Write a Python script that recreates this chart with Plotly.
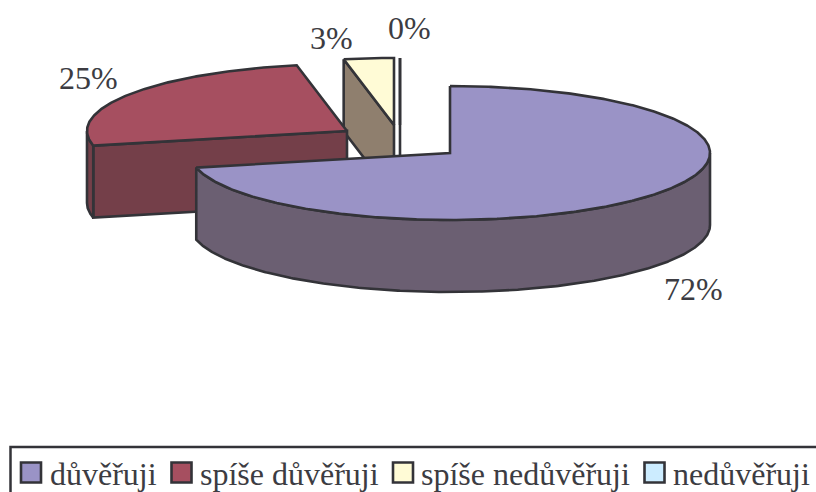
import numpy as np
import plotly.graph_objects as go

categories = ["důvěřuji", "spíše důvěřuji", "spíše nedůvěřuji", "nedůvěřuji"]
shares = [71.5, 25.4, 3.1, 0.0]
pct_labels = ["72%", "25%", "3%", "0%"]

top_colors = ["#9A93C6", "#A64F60", "#FFFBD6", "#CCECFF"]
wall_colors = ["#6B5F72", "#743F49", "#8F7F6E", "#8F7F6E"]
INK = "#333338"
TEXT = "#3C3C42"
FONT = "Liberation Serif"

RX, RY, DEPTH = 260, 67, 72
centers = [(450, 153), (347, 131), (394, 125), (400, 125)]
label_pos = [(693, 289), (88, 78), (331, 38), (409, 28)]
swatch_x = [31, 181.5, 403, 654.5]
legend_text_x = [48, 198, 419, 671]

bounds = np.concatenate([[0], np.cumsum(shares)]) * 3.6


def rim(c, a, dy=0):
    r = np.radians(a)
    return c[0] + RX * np.sin(r), c[1] - RY * np.cos(r) + dy


def arc(c, a0, a1, dy=0):
    n = max(2, int(abs(a1 - a0) * 2))
    return rim(c, np.linspace(a0, a1, n), dy)


fig = go.Figure()


def poly(xs, ys, fill):
    fig.add_trace(go.Scatter(
        x=list(xs) + [xs[0]], y=list(ys) + [ys[0]], mode="lines", fill="toself",
        fillcolor=fill, line=dict(color=INK, width=2.6), hoverinfo="skip", showlegend=False))


def slice3d(i):
    c = centers[i]
    a0, a1 = bounds[i], bounds[i + 1]
    if a0 > 180:
        x, y = rim(c, a0)
        poly([x, c[0], c[0], x], [y, c[1], c[1] + DEPTH, y + DEPTH], wall_colors[i])
    w0, w1 = max(a0, 90), min(a1, 270)
    if w1 > w0:
        xt, yt = arc(c, w0, w1)
        xb, yb = arc(c, w1, w0, DEPTH)
        poly(list(xt) + list(xb), list(yt) + list(yb), wall_colors[i])
    xt, yt = arc(c, a0, a1)
    poly(list(xt) + [c[0]], list(yt) + [c[1]], top_colors[i])


for i in [3, 2, 1, 0]:
    slice3d(i)

fig.add_shape(type="rect", x0=10.5, x1=840, y0=447, y1=520, line=dict(color=INK, width=2.5),
              fillcolor="white", layer="below")

for name, col, sx, tx in zip(categories, top_colors, swatch_x, legend_text_x):
    fig.add_trace(go.Scatter(
        x=[sx], y=[472.5], mode="markers", name=name, showlegend=False, hoverinfo="name",
        marker=dict(symbol="square", size=20, color=col, line=dict(color=INK, width=2.6))))
    fig.add_annotation(x=tx, y=474, text=name, showarrow=False, xanchor="left",
                       font=dict(family=FONT, size=32, color=TEXT))

for lab, (x, y) in zip(pct_labels, label_pos):
    fig.add_annotation(x=x, y=y, text=lab, showarrow=False,
                       font=dict(family=FONT, size=32, color=TEXT))

fig.update_layout(
    width=816, height=492, margin=dict(l=0, r=0, t=0, b=0),
    paper_bgcolor="white", plot_bgcolor="white", showlegend=False,
    xaxis=dict(range=[0, 816], visible=False, fixedrange=True),
    yaxis=dict(range=[492, 0], visible=False, fixedrange=True),
)
fig.write_html("out.html", config={"displayModeBar": False},
               post_script="document.body.style.margin='0';document.documentElement.style.overflow='hidden';")
